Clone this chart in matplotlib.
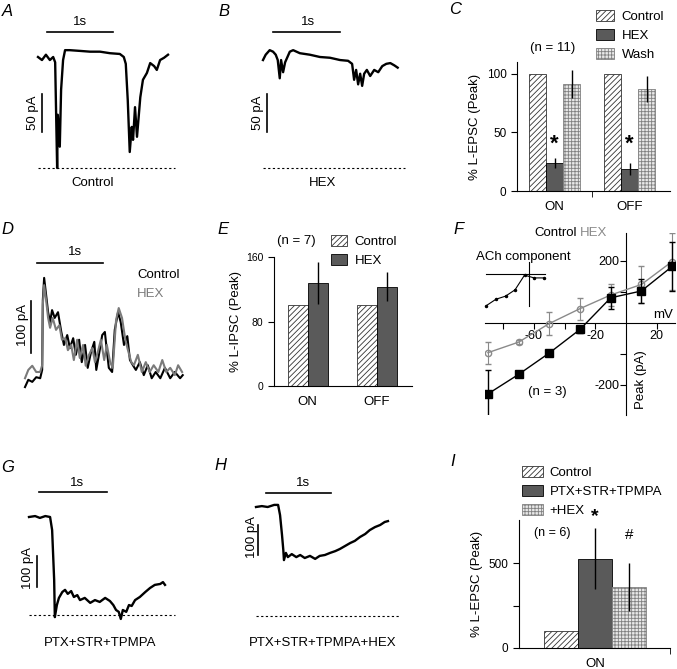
import matplotlib
matplotlib.use("Agg")
import matplotlib.pyplot as plt
from matplotlib.patches import Patch
import numpy as np

plt.rcParams["font.family"] = ["Liberation Sans", "DejaVu Sans"]
plt.rcParams["font.size"] = 9
plt.rcParams["hatch.linewidth"] = 0.6

W, H = 677, 669

# ---- trace data (time in s, current in pA) ----
# A: control light response
a_t = [0, 0.06, 0.12, 0.18, 0.23, 0.26, 0.29, 0.30, 0.33, 0.35, 0.38, 0.41, 0.48, 0.64,
       0.79, 0.94, 1.09, 1.24, 1.30, 1.33, 1.36, 1.39, 1.42, 1.44, 1.47, 1.50, 1.55,
       1.59, 1.65, 1.70, 1.76, 1.80, 1.85, 1.91, 1.97]
a_i = [0, -4, 3, -4, 0, -7, -146, -76, -118, -43, -4, 9, 9, 8,
       7, 7, 5, 4, 0, -9, -57, -125, -92, -109, -66, -105, -53,
       -30, -21, -8, -12, -17, -4, -1, 3]
# B: HEX
b_t = [0, 0.04, 0.10, 0.15, 0.19, 0.22, 0.25, 0.27, 0.30, 0.33, 0.36, 0.40, 0.45, 0.55,
       0.70, 0.85, 1.00, 1.15, 1.27, 1.33, 1.36, 1.39, 1.42, 1.45, 1.48, 1.51, 1.55,
       1.60, 1.66, 1.72, 1.78, 1.84, 1.90, 1.96, 2.01]
b_i = [-4, 3, 9, 7, 3, -4, -28, -4, -20, -7, -1, 7, 9, 5,
       3, 0, -1, -4, -5, -9, -30, -17, -36, -22, -38, -22, -17,
       -25, -17, -20, -12, -9, -8, -11, -14]
# D: L-IPSC, control and HEX
d_ctrl_t = [0, 0.05, 0.11, 0.17, 0.23, 0.26, 0.27, 0.29, 0.32, 0.35, 0.38, 0.41, 0.45,
            0.50, 0.55, 0.59, 0.64, 0.68, 0.73, 0.77, 0.82, 0.86, 0.91, 0.95, 1.00, 1.05,
            1.08, 1.12, 1.17, 1.21, 1.24, 1.27, 1.32, 1.36, 1.41, 1.45, 1.50, 1.55, 1.59,
            1.64, 1.68, 1.74, 1.80, 1.86, 1.92, 1.98, 2.05, 2.12, 2.20, 2.27, 2.35, 2.39]
d_ctrl_i = [-4, 10, 6, 15, 13, 29, 163, 206, 173, 140, 121, 144, 129,
            140, 102, 77, 96, 71, 90, 58, 87, 44, 77, 33, 63, 83,
            29, 58, 96, 102, 67, 33, 25, 106, 140, 121, 77, 94, 48,
            37, 29, 44, 19, 38, 13, 25, 13, 33, 13, 25, 13, 19]
d_hex_t = [0, 0.05, 0.11, 0.17, 0.23, 0.26, 0.27, 0.29, 0.32, 0.35, 0.38, 0.42, 0.47,
           0.52, 0.56, 0.61, 0.65, 0.70, 0.74, 0.79, 0.83, 0.88, 0.92, 0.97, 1.02, 1.06,
           1.11, 1.15, 1.20, 1.24, 1.29, 1.33, 1.38, 1.42, 1.47, 1.52, 1.56, 1.61, 1.65,
           1.71, 1.77, 1.83, 1.89, 1.95, 2.02, 2.08, 2.14, 2.20, 2.27, 2.32, 2.38]
d_hex_i = [13, 29, 37, 25, 25, 38, 154, 192, 163, 129, 110, 129, 106,
           115, 87, 90, 67, 77, 48, 87, 52, 77, 37, 58, 71, 44,
           67, 87, 48, 77, 44, 33, 125, 148, 129, 87, 67, 44, 38,
           58, 25, 44, 25, 38, 25, 48, 25, 33, 19, 38, 25]
# G: PTX+STR+TPMPA
g_t = [0, 0.09, 0.16, 0.24, 0.31, 0.34, 0.37, 0.38, 0.41, 0.44, 0.49, 0.53, 0.57, 0.62,
       0.66, 0.71, 0.75, 0.82, 0.90, 0.97, 1.04, 1.12, 1.19, 1.24, 1.28, 1.32, 1.35,
       1.38, 1.43, 1.47, 1.51, 1.56, 1.63, 1.71, 1.78, 1.85, 1.93, 1.97, 2.00]
g_i = [0, 3, -3, 3, 0, -42, -203, -323, -284, -261, -242, -235, -248, -239,
       -258, -252, -268, -261, -277, -268, -274, -261, -271, -284, -300, -306, -329,
       -300, -306, -284, -287, -268, -258, -242, -229, -219, -216, -210, -219]
# H: PTX+STR+TPMPA+HEX
h_t = [0, 0.09, 0.18, 0.28, 0.34, 0.37, 0.40, 0.42, 0.43, 0.46, 0.49, 0.55, 0.62, 0.68,
       0.75, 0.83, 0.91, 0.98, 1.06, 1.14, 1.22, 1.29, 1.37, 1.45, 1.52, 1.60, 1.68,
       1.75, 1.83, 1.91, 1.98, 2.03]
h_i = [0, 3, 0, 7, 7, -27, -93, -143, -177, -153, -167, -157, -167, -160,
       -170, -163, -173, -163, -160, -153, -147, -140, -130, -120, -113, -100, -90,
       -77, -67, -60, -50, -47]

# ---- bar data ----
groups = ["ON", "OFF"]
c_control = [100, 100]
c_hex = [24, 18.5]
c_hex_err = [4, 5]
c_wash = [91, 87]
c_wash_err = [12, 11]

e_control = [100, 100]
e_hex = [128, 123]
e_hex_err = [26, 18]

i_labels = ["Control", "PTX+STR+TPMPA", "+HEX"]
i_vals = [100, 527, 360]
i_err = [0, 180, 140]

# ---- I-V data ----
f_mv = [-90, -70, -50, -30, -10, 10, 30]
f_ctrl = [-229, -166, -97, -21, 81, 103, 182]
f_ctrl_err = [76, 8, 8, 12, 35, 40, 80]
f_hex = [-96, -62, -2, 46, 90, 124, 198]
f_hex_err = [35, 6, 38, 35, 34, 60, 92]
f_ach = [-133, -106, -93, -66, -3, -15, -15]

fig = plt.figure(figsize=(W / 100, H / 100), dpi=100)


def px_rect(l, t, r, b):
    return [l / W, 1 - b / H, (r - l) / W, (b - t) / H]


def ftext(x, y, s, **kw):
    kw.setdefault("ha", "center")
    kw.setdefault("va", "center")
    return fig.text(x / W, 1 - y / H, s, **kw)


def trace_axes(box, x0, y0, px_s, px_pa):
    l, t, r, b = box
    ax = fig.add_axes(px_rect(l, t, r, b))
    ax.set_xlim((l - x0) / px_s, (r - x0) / px_s)
    ax.set_ylim(-(b - y0) / px_pa, -(t - y0) / px_pa)
    ax.axis("off")
    return ax


def scale_bars(ax, t_bar, i_bar, t_v, i_v, v_len):
    ax.plot([t_bar, t_bar + 1], [i_bar, i_bar], color="black", lw=1.2, clip_on=False)
    ax.plot([t_v, t_v], [i_v, i_v - v_len], color="black", lw=1.2, clip_on=False)


def baseline(ax, t_end, level):
    ax.plot([0, t_end], [level, level], color="black", lw=0.8, ls=(0, (2, 2.2)), clip_on=False)


# A
ax_a = trace_axes((30, 15, 180, 175), 38, 57, 66, 0.76)
ax_a.plot(a_t, a_i, color="black", lw=1.7)
scale_bars(ax_a, 0.14, 33, 0.06, -49, 50)
baseline(ax_a, 2.08, -146)
ftext(7, 12, "A", fontsize=12, style="italic")
ftext(80, 22, "1s", fontsize=9.5)
ftext(33, 113, "50 pA", rotation=90, fontsize=9.5)
ftext(93, 183, "Control", fontsize=9.5)

# B
ax_b = trace_axes((255, 15, 410, 175), 263, 57, 67, 0.76)
ax_b.plot(b_t, b_i, color="black", lw=1.7)
scale_bars(ax_b, 0.15, 33, 0.06, -49, 50)
baseline(ax_b, 2.12, -146)
ftext(224, 12, "B", fontsize=12, style="italic")
ftext(308, 22, "1s", fontsize=9.5)
ftext(258, 113, "50 pA", rotation=90, fontsize=9.5)
ftext(323, 183, "HEX", fontsize=9.5)

# D
ax_d = trace_axes((20, 245, 190, 395), 25, 385, 66, 0.52)
ax_d.plot(d_ctrl_t, d_ctrl_i, color="black", lw=1.5)
ax_d.plot(d_hex_t, d_hex_i, color="#7a7a7a", lw=1.5)
scale_bars(ax_d, 0.18, 235, 0.09, 162, 100)
ftext(7, 230, "D", fontsize=12, style="italic")
ftext(75, 252, "1s", fontsize=9.5)
ftext(23, 325, "100 pA", rotation=90, fontsize=9.5)
ftext(137, 275, "Control", ha="left", fontsize=9.5)
ftext(137, 294, "HEX", ha="left", fontsize=9.5, color="#7a7a7a")

# G
ax_g = trace_axes((20, 480, 180, 625), 29, 517, 68, 0.31)
ax_g.plot(g_t, g_i, color="black", lw=1.7)
scale_bars(ax_g, 0.15, 81, 0.12, -126, 100)
baseline(ax_g, 2.15, -316)
ftext(8, 467, "G", fontsize=12, style="italic")
ftext(77, 483, "1s", fontsize=9.5)
ftext(28, 568, "100 pA", rotation=90, fontsize=9.5)
ftext(100, 643, "PTX+STR+TPMPA", fontsize=9.5)

# H
ax_h = trace_axes((250, 480, 405, 625), 256, 507, 65, 0.30)
ax_h.plot(h_t, h_i, color="black", lw=1.7)
scale_bars(ax_h, 0.15, 47, 0.03, -60, 100)
baseline(ax_h, 2.22, -363)
ftext(220, 465, "H", fontsize=12, style="italic")
ftext(303, 483, "1s", fontsize=9.5)
ftext(252, 537, "100 pA", rotation=90, fontsize=9.5)
ftext(323, 643, "PTX+STR+TPMPA+HEX", fontsize=9.5)

# bar styles
ctrl_style = dict(facecolor="white", edgecolor="#333333", hatch="//////", lw=0.6)
hex_style = dict(facecolor="#5a5a5a", edgecolor="black", lw=0.6)
wash_style = dict(facecolor="#e8e8e8", edgecolor="#808080", hatch="+++++", lw=0.6)


def bar_axes(box, ticksize=8.5):
    ax = fig.add_axes(px_rect(*box))
    for s in ("top", "right"):
        ax.spines[s].set_visible(False)
    ax.tick_params(axis="y", direction="out", length=4, labelsize=ticksize)
    ax.tick_params(axis="x", which="major", length=0, pad=7, labelsize=9.5)
    ax.tick_params(axis="x", which="minor", direction="out", length=4)
    return ax


# C
x = np.arange(len(groups))
ax_c = bar_axes((517, 62, 670, 191))
bw = 0.227
ax_c.bar(x - bw, c_control, bw, **ctrl_style)
ax_c.bar(x, c_hex, bw, **hex_style)
ax_c.bar(x + bw, c_wash, bw, **wash_style)
ax_c.errorbar(x, c_hex, yerr=c_hex_err, fmt="none", ecolor="black", elinewidth=1)
ax_c.errorbar(x + bw, c_wash, yerr=c_wash_err, fmt="none", ecolor="black", elinewidth=1)
for xc in x:
    ax_c.text(xc, 40, "*", ha="center", va="center", fontsize=16, fontweight="bold")
ax_c.set_xlim(-0.5, 1.54)
ax_c.set_ylim(0, 110)
ax_c.set_yticks([0, 50, 100])
ax_c.set_xticks(x)
ax_c.set_xticklabels(groups)
ax_c.set_xticks([0.5], minor=True)
ax_c.set_ylabel("% L-EPSC (Peak)", fontsize=9.5, labelpad=4)
ax_c.legend([Patch(**ctrl_style), Patch(**hex_style), Patch(**wash_style)],
            ["Control", "HEX", "Wash"], loc="upper left",
            bbox_to_anchor=(596 / W, 1 - 10 / H), bbox_transform=fig.transFigure,
            frameon=False, handlelength=1.35, handleheight=0.9, labelspacing=0.45,
            handletextpad=0.6, borderpad=0, borderaxespad=0, fontsize=9.5)
ftext(553, 48, "(n = 11)", fontsize=9.5)
ftext(455, 10, "C", fontsize=12, style="italic")

# E
ax_e = bar_axes((274, 257, 412, 386), ticksize=7.5)
bw = 0.29
ax_e.bar(x - bw / 2, e_control, bw, **ctrl_style)
ax_e.bar(x + bw / 2, e_hex, bw, **hex_style)
ax_e.errorbar(x + bw / 2, e_hex, yerr=e_hex_err, fmt="none", ecolor="black", elinewidth=1)
ax_e.set_xlim(-0.49, 1.51)
ax_e.set_ylim(0, 160)
ax_e.set_yticks([0, 80, 160])
ax_e.set_xticks(x)
ax_e.set_xticklabels(groups)
ax_e.set_ylabel("% L-IPSC (Peak)", fontsize=9.5, labelpad=3)
ax_e.legend([Patch(**ctrl_style), Patch(**hex_style)], ["Control", "HEX"],
            loc="upper left", bbox_to_anchor=(331 / W, 1 - 235 / H),
            bbox_transform=fig.transFigure, frameon=False, handlelength=1.2,
            handleheight=0.9, labelspacing=0.45, handletextpad=0.6, borderpad=0,
            borderaxespad=0, fontsize=9.5)
ftext(296, 241, "(n = 7)", fontsize=9.5)
ftext(223, 230, "E", fontsize=12, style="italic")

# I
ax_i = bar_axes((519, 520, 670, 648))
bw = 0.3
xi = np.array([-bw, 0, bw])
ax_i.bar(xi[0], i_vals[0], bw, **ctrl_style)
ax_i.bar(xi[1], i_vals[1], bw, **hex_style)
ax_i.bar(xi[2], i_vals[2], bw, **wash_style)
ax_i.errorbar(xi[1:], i_vals[1:], yerr=i_err[1:], fmt="none", ecolor="black", elinewidth=1)
ax_i.text(xi[1], 775, "*", ha="center", va="center", fontsize=14, fontweight="bold")
ax_i.text(xi[2], 665, "#", ha="center", va="center", fontsize=11)
ax_i.set_xlim(-0.67, 0.66)
ax_i.set_ylim(0, 755)
ax_i.set_yticks([0, 250, 500])
ax_i.set_yticklabels(["0", "", "500"])
ax_i.set_xticks([0])
ax_i.set_xticklabels(["ON"])
ax_i.set_xticks([0.66], minor=True)
ax_i.set_ylabel("% L-EPSC (Peak)", fontsize=9.5, labelpad=4)
ax_i.legend([Patch(**ctrl_style), Patch(**hex_style), Patch(**wash_style)], i_labels,
            loc="upper left", bbox_to_anchor=(522 / W, 1 - 466 / H),
            bbox_transform=fig.transFigure, frameon=False, handlelength=1.6,
            handleheight=0.9, labelspacing=0.45, handletextpad=0.5, borderpad=0,
            borderaxespad=0, fontsize=9.5)
ftext(552, 533, "(n = 6)", fontsize=9)
ftext(453, 462, "I", fontsize=12, style="italic")

# F
ax_f = fig.add_axes(px_rect(485, 233, 675, 415))
ax_f.set_xlim(-91.9, 31.9)
ax_f.set_ylim(-297, 290)
ax_f.spines["left"].set_position(("data", 0))
ax_f.spines["bottom"].set_position(("data", 0))
for s in ("top", "right"):
    ax_f.spines[s].set_visible(False)
ax_f.errorbar(f_mv, f_hex, yerr=f_hex_err, color="#8a8a8a", ecolor="#8a8a8a", lw=1,
              elinewidth=0.8, capsize=2, marker="o", ms=4.5, mfc="none", mec="#8a8a8a", zorder=3)
ax_f.errorbar(f_mv, f_ctrl, yerr=f_ctrl_err, color="black", ecolor="black", lw=1,
              elinewidth=1, capsize=2, marker="s", ms=5.5, zorder=4)
ax_f.set_xticks([-80, -60, -40, -20, 20])
ax_f.set_xticklabels(["", "-60", "", "-20", "20"])
ax_f.set_yticks([-200, -100, 100, 200])
ax_f.set_yticklabels(["-200", "", "", "200"])
ax_f.tick_params(direction="out", length=4, labelsize=9, pad=1)
ftext(459, 230, "F", fontsize=12, style="italic")
ftext(577, 233, "Control", ha="right", fontsize=9.5)
ftext(580, 233, "HEX", ha="left", fontsize=9.5, color="#8a8a8a")
ftext(476, 257, "ACh component", ha="left", fontsize=9.5)
ftext(663, 315, "mV", fontsize=9.5)
ftext(641, 380, "Peak (pA)", rotation=90, fontsize=9.5)
ftext(547, 392, "(n = 3)", fontsize=9.5)

# F inset
ax_in = fig.add_axes(px_rect(486, 262, 545, 306))
ax_in.set_xlim(-91, 33)
ax_in.set_ylim(-135, 53)
ax_in.spines["left"].set_position(("data", 0))
ax_in.spines["bottom"].set_position(("data", 0))
for s in ("top", "right"):
    ax_in.spines[s].set_visible(False)
ax_in.set_xticks([])
ax_in.set_yticks([])
ax_in.patch.set_alpha(0)
ax_in.plot(f_mv, f_ach, color="black", lw=0.8, marker="o", ms=1.5, clip_on=False)

fig.savefig("out.png", dpi=100)
